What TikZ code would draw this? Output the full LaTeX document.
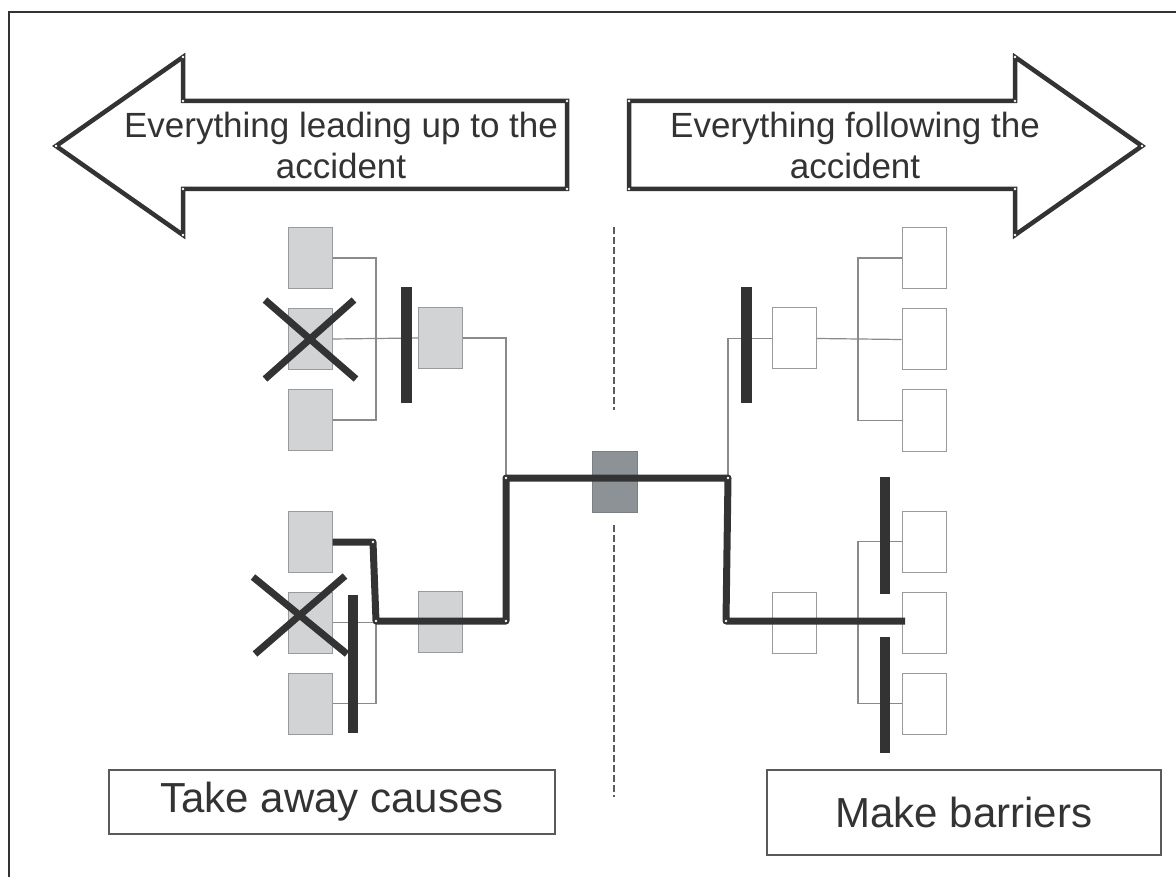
\documentclass[tikz,border=0pt]{standalone}
\usepackage{fontspec}
\setmainfont{Liberation Sans}
\definecolor{ink}{HTML}{333333}
\definecolor{boxgray}{HTML}{D1D3D4}
\definecolor{boxedge}{HTML}{9A9A9A}
\definecolor{evgray}{HTML}{8D9297}
\definecolor{evedge}{HTML}{7A7F84}
\definecolor{linegray}{HTML}{8A8A8A}
\definecolor{labeledge}{HTML}{5A5A5A}
\begin{document}
\begin{tikzpicture}[x=1pt,y=-1pt,
  frameline/.style={draw=ink,line width=1.5pt},
  bigarrow/.style={draw=ink,line width=4.5pt,fill=white,line join=miter},
  cause/.style={draw=boxedge,fill=boxgray,line width=1pt,minimum width=44pt,minimum height=61pt,inner sep=0pt},
  effect/.style={draw=boxedge,fill=white,line width=1pt,minimum width=44pt,minimum height=61pt,inner sep=0pt},
  eventbox/.style={draw=evedge,fill=evgray,line width=1pt,minimum width=45pt,minimum height=61pt,inner sep=0pt},
  barrier/.style={fill=ink,inner sep=0pt,minimum width=11pt},
  thinline/.style={draw=linegray,line width=1.2pt},
  thickline/.style={draw=ink,line width=7pt,line join=round},
  crossline/.style={draw=ink,line width=7pt},
  centerdash/.style={draw=ink!80,line width=1.2pt,dash pattern=on 7pt off 3pt},
  handle/.style={fill=white},
  arrowtext/.style={align=center,inner sep=0pt,text=ink,font=\fontsize{35}{41}\selectfont},
  labelbox/.style={draw=labeledge,line width=1.5pt,fill=white,inner sep=0pt,text=ink,font=\fontsize{42}{48}\selectfont}
]
\useasboundingbox (0,0) rectangle (1176,877);
% frame
\draw[frameline] (9,877) -- (9,12) -- (1176,12);

% big arrows
\draw[bigarrow] (56,146) -- (183,57) -- (183,101) -- (567,101) -- (567,189) -- (183,189) -- (183,235) -- cycle;
\draw[bigarrow] (1142,146) -- (1015,57) -- (1015,101) -- (629,101) -- (629,189) -- (1015,189) -- (1015,235) -- cycle;
\foreach \p in {(56,146),(183,57),(183,101),(567,101),(567,189),(183,189),(183,235),
                (1142,146),(1015,57),(1015,101),(629,101),(629,189),(1015,189),(1015,235)}
  \fill[handle] \p circle (1.3pt);
\node[arrowtext] (tl) at (341,145) {Everything leading up to the\\accident};
\node[arrowtext] (tr) at (855,145) {Everything following the\\accident};

% dashed centre line
\draw[centerdash] (614,227) -- (614,410);
\draw[centerdash] (614,525) -- (614,797);

% boxes
\node[cause] (L1) at (310,258) {};
\node[cause] (L2) at (310,339) {};
\node[cause] (L3) at (310,420) {};
\node[cause] (L4) at (440.5,338) {};
\node[cause] (L5) at (310,542) {};
\node[cause] (L6) at (310,622.5) {};
\node[cause] (L7) at (310,703.5) {};
\node[cause] (L8) at (440.5,621.5) {};
\node[eventbox] (C) at (614.5,481.5) {};
\node[effect] (R1) at (794,338.5) {};
\node[effect] (R2) at (924,258) {};
\node[effect] (R3) at (924,339.5) {};
\node[effect] (R4) at (924,420.5) {};
\node[effect] (R5) at (794,622.5) {};
\node[effect] (R6) at (924,541.5) {};
\node[effect] (R7) at (924,622.5) {};
\node[effect] (R8) at (924,703.5) {};

% junction coordinates
\coordinate (ja) at (376,258);
\coordinate (jb) at (376,420);
\coordinate (jc) at (506,338);
\coordinate (jd) at (506,478);
\coordinate (je) at (376,622.5);
\coordinate (jf) at (376,703.5);
\coordinate (jg) at (728,478);
\coordinate (jh) at (728,338.5);
\coordinate (ji) at (858,258);
\coordinate (jj) at (858,420.5);
\coordinate (jl) at (858,541.5);
\coordinate (jm) at (858,703.5);
\coordinate (k1) at (373,542);
\coordinate (k2) at (376,621);
\coordinate (k3) at (506,621);
\coordinate (k4) at (726,621);
\coordinate (k5) at (905,621);

% thin connectors
\draw[thinline] (L1.east) -- (ja) -- (jb) -- (L3.east);
\draw[thinline] (L2.east) -- (L4.west);
\draw[thinline] (L4.east) -- (jc) -- (jd);
\draw[thinline] (L6.east) -- (je) -- (jf) -- (L7.east);
\draw[thinline] (jg) -- (jh) -- (R1.west);
\draw[thinline] (R1.east) -- (R3.west);
\draw[thinline] (R2.west) -- (ji) -- (jj) -- (R4.west);
\draw[thinline] (R6.west) -- (jl) -- (jm) -- (R8.west);

% thick causal path
\draw[thickline] (L5.east) -- (k1) -- (k2) -- (k3) -- (jd) -- (jg) -- (k4) -- (k5);
\foreach \p in {(k1),(k2),(k3),(jd),(jg),(k4)}
  \fill[handle] \p circle (1.3pt);

% barriers
\node[barrier,minimum height=116pt] (B1) at (406.5,345) {};
\node[barrier,minimum height=138pt,minimum width=10pt] (B2) at (353,664) {};
\node[barrier,minimum height=116pt] (B3) at (746.5,345) {};
\node[barrier,minimum height=117pt,minimum width=10pt] (B4) at (885,535.5) {};
\node[barrier,minimum height=116pt,minimum width=10pt] (B5) at (885,695) {};

% crosses
\draw[crossline] (265,300) -- (356,379);
\draw[crossline] (354,300) -- (265,379);
\draw[crossline] (253,577) -- (347,654);
\draw[crossline] (345,576) -- (255,654);

% labels
\node[labelbox,minimum width=446pt,minimum height=64pt] (T1) at (332,802) {Take away causes};
\node[labelbox,minimum width=394pt,minimum height=85pt] (T2) at (964,812.5) {Make barriers};
\end{tikzpicture}
\end{document}
